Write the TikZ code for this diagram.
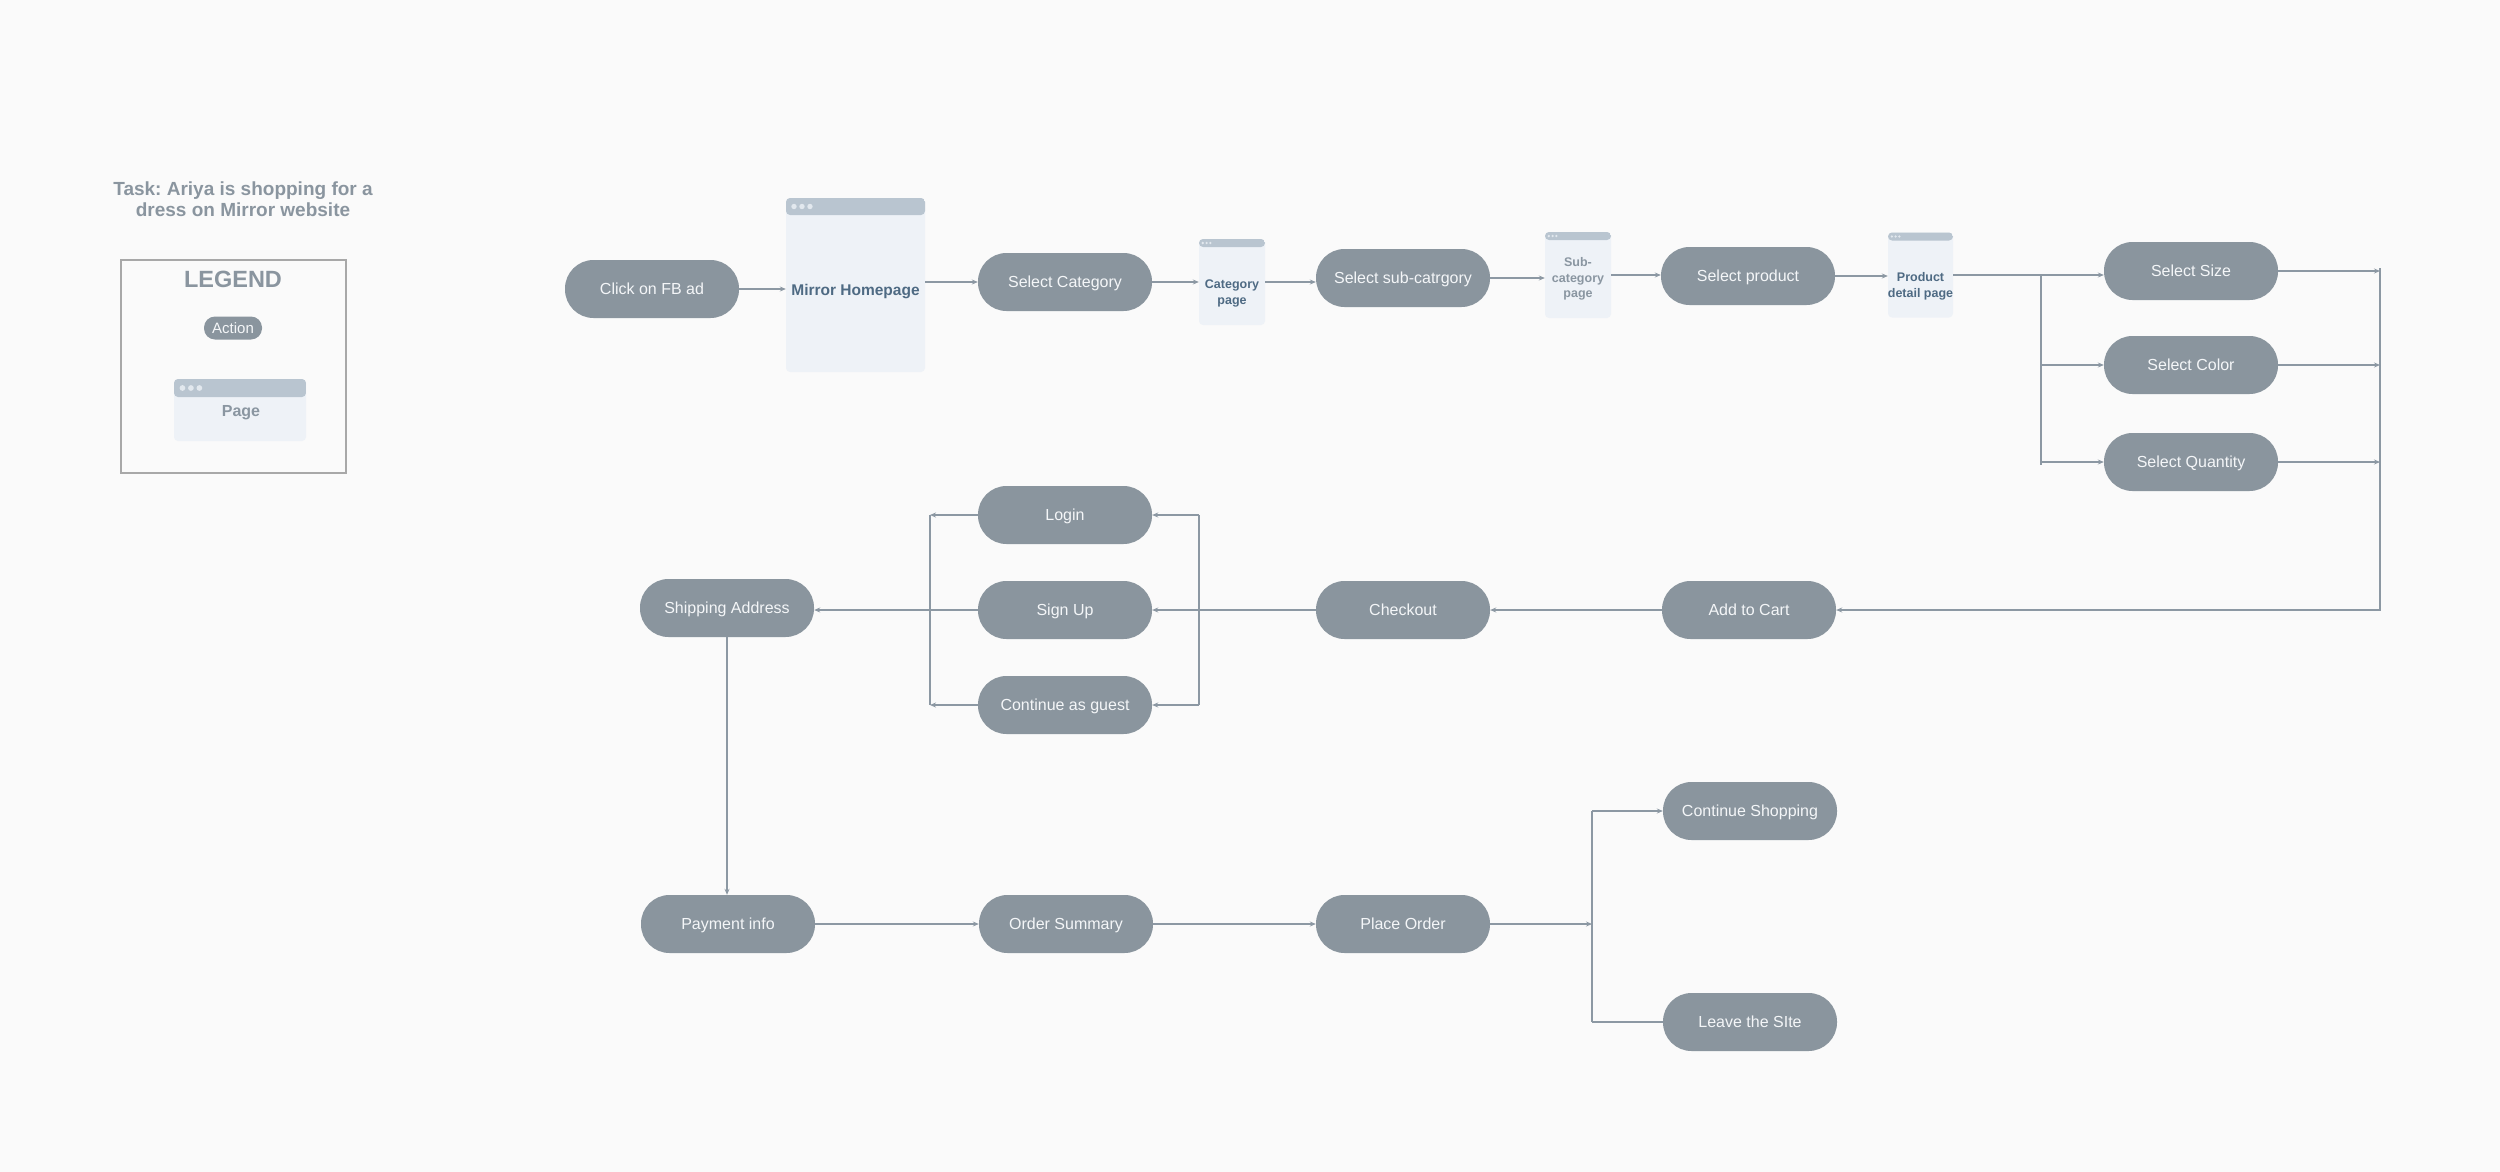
\documentclass[tikz,border=0pt]{standalone}
\usepackage{fontspec}
\setmainfont{Liberation Sans}
\usetikzlibrary{arrows.meta,calc}
\frenchspacing
\definecolor{bgc}{HTML}{FAFAFA}
\definecolor{pillc}{HTML}{8A959E}
\definecolor{pilltext}{HTML}{F4F6F8}
\definecolor{linec}{HTML}{8C98A3}
\definecolor{pagec}{HTML}{EEF2F7}
\definecolor{hdrc}{HTML}{B9C5D0}
\definecolor{dotc}{HTML}{E2E8EE}
\definecolor{pagedark}{HTML}{4E6A83}
\definecolor{pagelight}{HTML}{8A96A1}
\definecolor{titlec}{HTML}{8A959F}
\definecolor{legc}{HTML}{A8A8A8}
\tikzset{
  pill/.style={rectangle, rounded corners=28.5pt, fill=pillc, text=pilltext,
    minimum width=174pt, minimum height=58pt, inner sep=0pt,
    text height=11.5pt, text depth=0pt,
    font=\fontsize{16}{19}\selectfont},
  pagebox/.style={rectangle, rounded corners=4pt, fill=pagec, inner sep=0pt,
    path picture={
      \fill[hdrc] (path picture bounding box.north west) rectangle ([yshift=-#1*1pt]path picture bounding box.north east);
      \foreach \k in {1,2,3}
        \fill[dotc] ([xshift=\k*#1*0.47pt, yshift=-#1*0.5pt]path picture bounding box.north west) circle[radius=#1*0.16pt];
    }},
  bigtext/.style={font=\bfseries\fontsize{15.5}{18}\selectfont, text=pagedark, align=center},
  smalltext/.style={font=\bfseries\fontsize{12.5}{15.5}\selectfont, text=#1, align=center},
  lineonly/.style={draw=linec, line width=1.1pt},
  conn/.style={lineonly, -{Stealth[length=6pt,width=5pt]}},
}
\begin{document}
\begin{tikzpicture}[x=1pt,y=-1pt]
\fill[bgc] (0,0) rectangle (2500,1172);
\useasboundingbox (0,0) rectangle (2500,1172);

% title and legend
\node[font=\bfseries\fontsize{19}{21}\selectfont, text=titlec, align=center] (title) at (243,199) {Task: Ariya is shopping for a\\dress on Mirror website};
\node[draw=legc, line width=2pt, minimum width=225pt, minimum height=213pt, inner sep=0pt] (legbox) at (233.5,366.5) {};
\node[font=\bfseries\fontsize{23.5}{26}\selectfont, text=titlec] (legtitle) at (233,279) {LEGEND};
\node[pill, rounded corners=11pt, minimum width=58pt, minimum height=23pt, text height=10.5pt, font=\fontsize{15}{17}\selectfont] (legaction) at (233,328) {Action};
\node[pagebox=18, minimum width=132pt, minimum height=62pt] (legpage) at (240,410) {};
\node[smalltext=pagelight, font=\bfseries\fontsize{16}{18}\selectfont] (legpagetext) at (241,413) {Page};

% top row
\node[pill] (fb) at (652,289) {Click on FB ad};
\node[pagebox=17, minimum width=139pt, minimum height=174pt] (home) at (855.5,285) {};
\node[bigtext] (hometext) at ($(home.center)+(0,7)$) {Mirror Homepage};
\node[pill] (selcat) at (1065,282) {Select Category};
\node[pagebox=8, minimum width=66pt, minimum height=86pt] (catpage) at (1232,282) {};
\node[smalltext=pagedark] (cattext) at ($(catpage.center)+(0,11.5)$) {Category\\page};
\node[pill] (subcat) at (1403,278) {Select sub-catrgory};
\node[pagebox=8, minimum width=66pt, minimum height=86pt] (subpage) at (1578,275) {};
\node[smalltext=pagelight] (subtext) at ($(subpage.center)+(0,4)$) {Sub-\\category\\page};
\node[pill] (selprod) at (1748,276) {Select product};
\node[pagebox=8, minimum width=65pt, minimum height=85pt] (pdp) at (1920.5,275) {};
\node[smalltext=pagedark] (pdptext) at ($(pdp.center)+(0,11.5)$) {Product\\detail page};
\node[pill] (size) at (2191,271) {Select Size};
\node[pill] (color) at (2191,365) {Select Color};
\node[pill] (qty) at (2191,462) {Select Quantity};

% middle
\node[pill] (login) at (1065,515) {Login};
\node[pill] (signup) at (1065,610) {Sign Up};
\node[pill] (guest) at (1065,705) {Continue as guest};
\node[pill] (ship) at (727,608) {Shipping Address};
\node[pill] (checkout) at (1403,610) {Checkout};
\node[pill] (cart) at (1749,610) {Add to Cart};

% bottom
\node[pill] (pay) at (728,924) {Payment info};
\node[pill] (order) at (1066,924) {Order Summary};
\node[pill] (place) at (1403,924) {Place Order};
\node[pill] (contshop) at (1750,811) {Continue Shopping};
\node[pill] (leave) at (1750,1022) {Leave the SIte};

% connectors top row
\draw[conn] (fb.east) -- (fb.east -| home.west);
\draw[conn] (home.east |- selcat.west) -- (selcat.west);
\draw[conn] (selcat.east) -- (selcat.east -| catpage.west);
\draw[conn] (catpage.east) -- (catpage.east -| subcat.west);
\draw[conn] (subcat.east) -- (subcat.east -| subpage.west);
\draw[conn] (subpage.east) -- (subpage.east -| selprod.west);
\draw[conn] (selprod.east) -- (selprod.east -| pdp.west);
\draw[conn] (pdp.east) -- (pdp.east -| size.west);
\coordinate (b1) at (2041,275);
\draw[lineonly] (b1) -- ($(b1 |- qty.west)+(0,3)$);
\draw[conn] (b1 |- color.west) -- (color.west);
\draw[conn] (b1 |- qty.west) -- (qty.west);
\coordinate (b2) at (2380,268);
\draw[conn] (size.east) -- (size.east -| b2);
\draw[conn] (color.east) -- (color.east -| b2);
\draw[conn] (qty.east) -- (qty.east -| b2);
\draw[conn] (b2) -- (b2 |- cart.east) -- (cart.east);

% middle connectors
\draw[conn] (cart.west) -- (checkout.east);
\draw[conn] (checkout.west) -- (signup.east);
\coordinate (b3) at (1199,515);
\draw[lineonly] (b3) -- (b3 |- guest.east);
\draw[conn] (b3 |- login.east) -- (login.east);
\draw[conn] (b3 |- guest.east) -- (guest.east);
\coordinate (b4) at (930,515);
\draw[lineonly] (b4) -- (b4 |- guest.west);
\draw[conn] (login.west) -- (login.west -| b4);
\draw[conn] (guest.west) -- (guest.west -| b4);
\draw[conn] (signup.west) -- (signup.west -| ship.east);
\draw[conn] (ship.south) -- (ship.south |- pay.north);

% bottom connectors
\draw[conn] (pay.east) -- (order.west);
\draw[conn] (order.east) -- (place.west);
\coordinate (b5) at (1592,811);
\draw[conn] (place.east) -- (place.east -| b5);
\draw[lineonly] (b5) -- (b5 |- leave.west);
\draw[conn] (b5 |- contshop.west) -- (contshop.west);
\draw[lineonly] (b5 |- leave.west) -- (leave.west);
\end{tikzpicture}
\end{document}
